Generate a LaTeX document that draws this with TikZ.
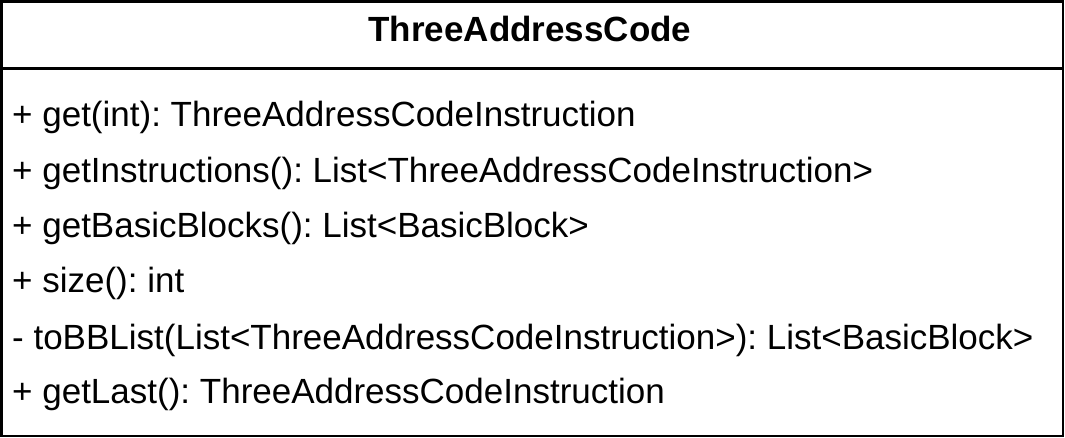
\documentclass[tikz,border=0pt]{standalone}
\usepackage{fontspec}
\setmainfont{Liberation Sans}
\frenchspacing
\begin{document}
\begin{tikzpicture}[x=1pt,y=-1pt,
  umlbox/.style={draw=black,line width=2.3pt,fill=white},
  member/.style={anchor=base west,inner sep=0pt,font=\fontsize{35}{40}\selectfont},
  title/.style={anchor=base,inner sep=0pt,font=\fontsize{35}{40}\selectfont\bfseries}]
\useasboundingbox (0,0) rectangle (1065,438);
\node[draw=none,fill=white,minimum width=1061pt,minimum height=434pt,inner sep=0pt,anchor=north west] (box) at (1.5,1.5) {};
\draw[umlbox] (box.north west) rectangle (box.south east);
\coordinate (dl) at (1.5,68.5);
\coordinate (dr) at (1062.5,68.5);
\draw[line width=2.3pt] (dl) -- (dr);
\node[title] (t) at (530,42) {ThreeAddressCode};
\node[member] (m1) at (12,127) {+ get(int): ThreeAddressCodeInstruction};
\node[member] (m2) at (12,183) {+ getInstructions(): List<ThreeAddressCodeInstruction>};
\node[member] (m3) at (12,238) {+ getBasicBlocks(): List<BasicBlock>};
\node[member] (m4) at (12,293) {+ size(): int};
\node[member] (m5) at (12,349) {- toBBList(List<ThreeAddressCodeInstruction>): List<BasicBlock>};
\node[member] (m6) at (12,403) {+ getLast(): ThreeAddressCodeInstruction};
\end{tikzpicture}
\end{document}
